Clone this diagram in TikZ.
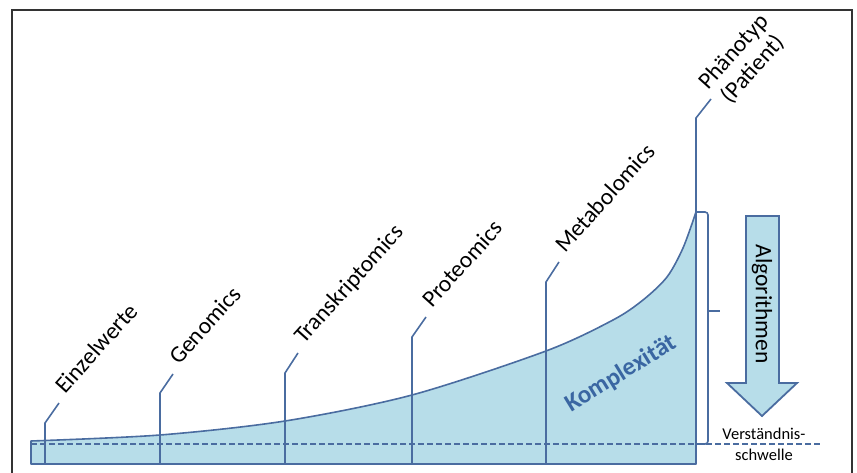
\documentclass[tikz,border=0pt]{standalone}
\usepackage{fontspec}
\setmainfont{Carlito}
\usetikzlibrary{calc}
\definecolor{fillblue}{RGB}{183,221,233}
\definecolor{lineblue}{RGB}{74,108,160}
\definecolor{textblue}{RGB}{58,102,162}
\begin{document}
\begin{tikzpicture}[x=1pt,y=-1pt,
  frame/.style={draw=black!80, line width=1.2pt},
  outline/.style={draw=lineblue, line width=1.6pt, line join=round},
  leader/.style={draw=lineblue, line width=1.6pt},
  threshold/.style={draw=lineblue, line width=1.3pt, dash pattern=on 6pt off 3pt},
  omicslabel/.style={rotate=48, anchor=base west, inner sep=0pt, font=\fontsize{23.5}{27}\selectfont},
  bigarrow/.style={draw=lineblue, fill=fillblue, line width=1.8pt, line join=miter}]
\useasboundingbox (0,0) rectangle (857,473);

% outer frame
\draw[frame] (12,473) -- (12,10) -- (852,10) -- (852,473);

% area under the complexity curve
\fill[fillblue] (31,464) -- (31,441) -- plot[smooth, tension=0.5] coordinates {(31,441) (160,435) (285,421) (412,395) (546,351) (613,320) (643,300) (667,277) (683,248) (696,212)} -- (696,464) -- cycle;

% threshold of understanding
\draw[threshold] (31,444) -- (822,444);

\draw[outline] (31,464) -- (31,441) -- plot[smooth, tension=0.5] coordinates {(31,441) (160,435) (285,421) (412,395) (546,351) (613,320) (643,300) (667,277) (683,248) (696,212)} -- (696,464) -- cycle;

% leader lines and their labels
\coordinate (b1) at (45,464);  \coordinate (k1) at (45,423);  \coordinate (e1) at (59,403);
\coordinate (b2) at (160,464); \coordinate (k2) at (160,393); \coordinate (e2) at (173,374);
\coordinate (b3) at (285,464); \coordinate (k3) at (285,373); \coordinate (e3) at (298,353);
\coordinate (b4) at (412,464); \coordinate (k4) at (412,337); \coordinate (e4) at (426,317);
\coordinate (b5) at (546,464); \coordinate (k5) at (546,282); \coordinate (e5) at (559,262);
\coordinate (b6) at (696,464); \coordinate (k6) at (696,118); \coordinate (e6) at (711,99);

\foreach \i in {1,...,6} {\draw[leader] (b\i) -- (k\i) -- (e\i);}

\node[omicslabel] (l1) at ($(e1)+(6,-8)$) {Einzelwerte};
\node[omicslabel] (l2) at ($(e2)+(6,-8)$) {Genomics};
\node[omicslabel] (l3) at ($(e3)+(6,-8)$) {Transkriptomics};
\node[omicslabel] (l4) at ($(e4)+(6,-8)$) {Proteomics};
\node[omicslabel] (l5) at ($(e5)+(6,-8)$) {Metabolomics};
\node[rotate=48, anchor=west, inner sep=0pt, align=center, font=\fontsize{23.5}{26}\selectfont] (l6) at ($(e6)+(2,-4)$) {Phänotyp\\(Patient)};

% complexity label
\node[rotate=31.5, text=textblue, inner sep=0pt, font=\fontsize{25}{28}\selectfont\bfseries] (kx) at (621,374) {Komplexität};

% bracket from the curve top down to the threshold
\draw[outline, rounded corners=3pt] (696,212) -- (708,212) -- (708,444) -- (698,444);
\draw[outline] (708,311) -- (720,311);

% algorithm arrow
\draw[bigarrow] (746,216) -- (779,216) -- (779,383) -- (797,383) -- (762,416) -- (727,383) -- (746,383) -- cycle;
\node[rotate=-90, inner sep=0pt, font=\fontsize{23.5}{27}\selectfont] (alg) at (762,304) {Algorithmen};

% threshold caption
\node[align=center, inner sep=0pt, font=\fontsize{16.5}{21}\selectfont] (vs) at (764,444) {Verständnis-\\schwelle};
\end{tikzpicture}
\end{document}
